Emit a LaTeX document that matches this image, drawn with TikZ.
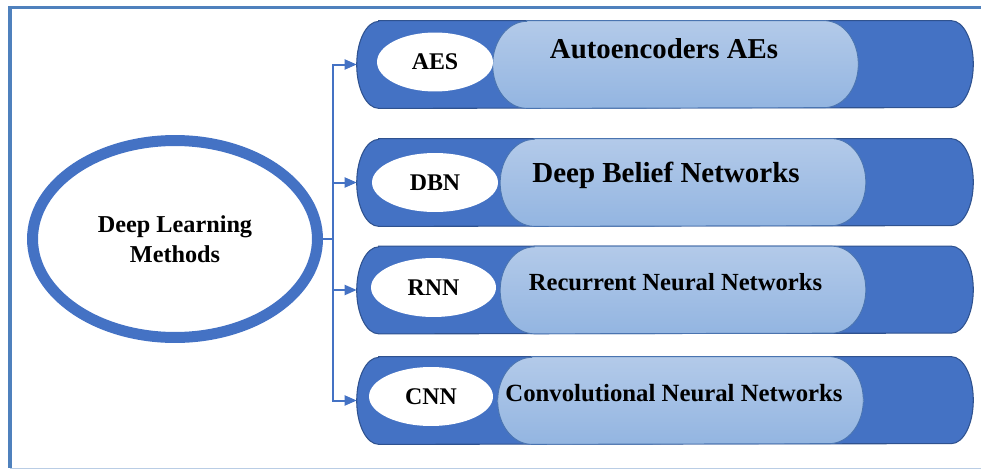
\documentclass[tikz,border=0pt]{standalone}
\usepackage{fontspec}
\setmainfont{Liberation Serif}
\usetikzlibrary{shapes.geometric,arrows.meta}

\definecolor{barblue}{HTML}{4472C4}
\definecolor{baredge}{HTML}{2F528F}
\definecolor{capstop}{HTML}{B3CAE9}
\definecolor{capsbot}{HTML}{93B5E1}
\definecolor{capsedge}{HTML}{4A74B0}
\definecolor{frameblue}{HTML}{4F81BD}
\definecolor{framegray}{HTML}{B9CDE5}

% can shape between the corners of a node: #1 node, #2 end radius, #3 style
\newcommand{\capsule}[3]{
  \path[#3] ([xshift=#2]#1.north west) -- ([xshift=-#2]#1.north east)
    arc[start angle=90,end angle=-90,x radius=#2,y radius=0.87cm]
    -- ([xshift=#2]#1.south west)
    arc[start angle=270,end angle=90,x radius=#2,y radius=0.87cm]
    -- cycle;}

\begin{document}
\begin{tikzpicture}[x=0.02cm,y=-0.02cm]

      \tikzstyle{holder}=[rectangle,inner sep=0pt,
        minimum height=1.74cm]
      \tikzstyle{abbr}=[ellipse,fill=white,inner sep=0pt,
        minimum height=1.18cm,
        font=\fontsize{13.6}{16}\selectfont\bfseries]
      \tikzstyle{title}=[anchor=base,inner sep=0pt]
      \tikzstyle{link}=[line width=0.04cm,barblue]
      \tikzstyle{linkarrow}=[link,
        -{Triangle[length=0.24cm,width=0.2cm]}]

      \useasboundingbox (0,0) rectangle (981,470);

      % frame
      \draw [line width=0.08cm,frameblue]
      (981,7.5)--(10,7.5)--(10,468);
      \draw [line width=0.03cm,framegray]
      (10,468.5)--(981,468.5);

      \node(DLM)[ellipse,draw=barblue,line width=0.22cm,
        inner sep=0pt,minimum width=5.7cm,minimum height=3.94cm,
        align=center,font=\fontsize{13.8}{17}\selectfont\bfseries]
        at (175,239) {Deep Learning\\Methods};

      \node(BAR1)[holder,minimum width=12.32cm] at (665,64.5) {};
      \node(BAR2)[holder,minimum width=12.32cm] at (665,182.5) {};
      \node(BAR3)[holder,minimum width=12.32cm] at (665,290) {};
      \node(BAR4)[holder,minimum width=12.32cm] at (665,400.5) {};

      \node(CAPS1)[holder,minimum width=7.3cm] at (675.5,64.5) {};
      \node(CAPS2)[holder,minimum width=7.3cm] at (683,182.5) {};
      \node(CAPS3)[holder,minimum width=7.3cm] at (683,290) {};
      \node(CAPS4)[holder,minimum width=7.3cm] at (680.5,400.5) {};

      \capsule{BAR1}{0.44cm}{fill=barblue,draw=baredge,line width=0.6pt}
      \capsule{BAR2}{0.44cm}{fill=barblue,draw=baredge,line width=0.6pt}
      \capsule{BAR3}{0.44cm}{fill=barblue,draw=baredge,line width=0.6pt}
      \capsule{BAR4}{0.44cm}{fill=barblue,draw=baredge,line width=0.6pt}

      \capsule{CAPS1}{0.68cm}{top color=capstop,bottom color=capsbot,
        draw=capsedge,line width=0.5pt}
      \capsule{CAPS2}{0.68cm}{top color=capstop,bottom color=capsbot,
        draw=capsedge,line width=0.5pt}
      \capsule{CAPS3}{0.68cm}{top color=capstop,bottom color=capsbot,
        draw=capsedge,line width=0.5pt}
      \capsule{CAPS4}{0.68cm}{top color=capstop,bottom color=capsbot,
        draw=capsedge,line width=0.5pt}

      \node(AES)[abbr,minimum width=2.32cm] at (435,62) {AES};
      \node(DBN)[abbr,minimum width=2.52cm] at (435,182.5) {DBN};
      \node(RNN)[abbr,minimum width=2.5cm] at (433.5,287.5) {RNN};
      \node(CNN)[abbr,minimum width=2.48cm] at (431,396.5) {CNN};

      \node(TITLE1)[title,font=\fontsize{16.4}{19}\selectfont\bfseries]
        at (664,58) {Autoencoders AEs};
      \node(TITLE2)[title,font=\fontsize{16.5}{19}\selectfont\bfseries]
        at (666,182) {Deep Belief Networks};
      \node(TITLE3)[title,font=\fontsize{14}{16}\selectfont\bfseries]
        at (675.5,290) {Recurrent Neural Networks};
      \node(TITLE4)[title,font=\fontsize{14.1}{17}\selectfont\bfseries]
        at (674,401) {Convolutional Neural Networks};

      \coordinate(TRUNK) at (333,239);
      \draw [link] (DLM.east)--(TRUNK);
      \draw [linkarrow] (TRUNK) |- (BAR1.west);
      \draw [linkarrow] (TRUNK) |- (BAR2.west);
      \draw [linkarrow] (TRUNK) |- (BAR3.west);
      \draw [linkarrow] (TRUNK) |- (BAR4.west);

    \end{tikzpicture}
\end{document}
